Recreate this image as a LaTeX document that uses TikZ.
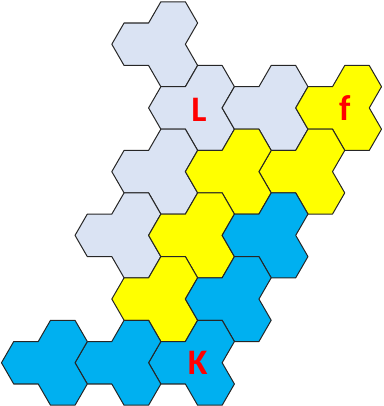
\documentclass[tikz,border=0pt]{standalone}
\usepackage{fontspec}
\usepackage{xcolor}
\usepackage{tikz}
\newfontfamily\tagfont{Carlito}
\definecolor{tilegrey}{HTML}{DAE3F3}
\definecolor{tileyellow}{HTML}{FFFF00}
\definecolor{tileblue}{HTML}{00B0F0}

\begin{document}
\begin{tikzpicture}[
    x=0.6cm,y=0.6cm,
    tile/.style={draw=black!85,line width=0.7pt,line join=round},
    tag/.style={text=red,inner sep=0pt,font=\tagfont\bfseries\fontsize{25}{25}\selectfont},
]
\useasboundingbox (-1.06,0.938) rectangle (14.56,-15.62);
% tri-hex tiles: column/row of the single left hex, colour
\foreach \c/\r/\col in {3/0/tilegrey, 4/2/tilegrey, 3/3/tilegrey, 2/5/tilegrey, 6/2/tilegrey,
                       8/2/tileyellow, 7/3/tileyellow, 5/3/tileyellow, 4/5/tileyellow, 3/6/tileyellow,
                       6/5/tileblue, 5/6/tileblue, 4/8/tileblue, 2/8/tileblue, 0/8/tileblue}{
  \pgfmathsetmacro\hx{1.5*\c}
  \pgfmathsetmacro\hy{-sqrt(3)*(\r+0.5*mod(\c,2))}
  \draw[tile,fill=\col] (\hx,\hy) ++(-1,0) -- ++(-60:1) -- ++(0:1) -- ++(-60:1) -- ++(0:1)
    -- ++(60:1) -- ++(120:1) -- ++(60:1) -- ++(120:1) -- ++(180:1) -- ++(240:1) -- ++(180:1) -- cycle;
}
\node[tag] (labL) at (7.05,-3.55)   {L};
\node[tag] (labf) at (13,-3.464)    {f};
\node[tag] (labK) at (7,-13.856)    {K};
\end{tikzpicture}
\end{document}
